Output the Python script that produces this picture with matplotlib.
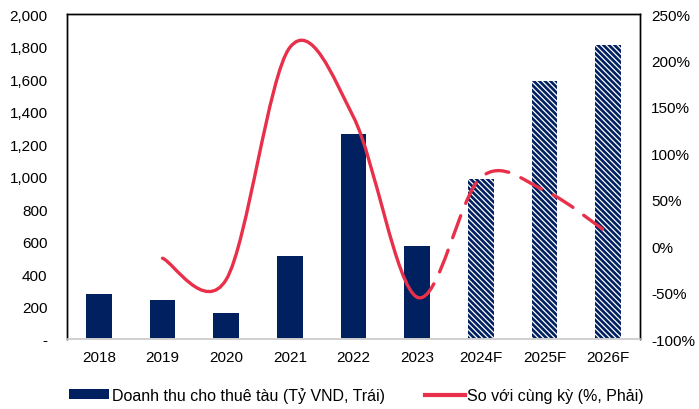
import numpy as np
import matplotlib
matplotlib.use("Agg")
import matplotlib.pyplot as plt
from matplotlib.path import Path
from matplotlib.patches import PathPatch, Patch
from matplotlib.lines import Line2D
from matplotlib.ticker import FuncFormatter, MultipleLocator

plt.rcParams['font.family'] = ['Liberation Sans', 'DejaVu Sans']
plt.rcParams['hatch.linewidth'] = 0.9

# Data
years = ['2018', '2019', '2020', '2021', '2022', '2023', '2024F', '2025F', '2026F']
revenue = [275, 238, 162, 512, 1260, 570, 985, 1588, 1812]   # ty VND (left axis)
yoy_years = ['2019', '2020', '2021', '2022', '2023', '2024F', '2025F', '2026F']
yoy = [-13, -36, 214, 139, -55, 74, 60, 14]                   # % (right axis)
forecast = [False, False, False, False, False, False, True, True, True]

navy = '#002060'
red = '#E8304A'

fig = plt.figure(figsize=(6.99, 4.10), dpi=100)
ax = fig.add_axes([0.0959, 0.1707, 0.8197, 0.7927])
ax2 = ax.twinx()

x = np.arange(len(years))
for xi, v, f in zip(x, revenue, forecast):
    if f:
        ax.bar(xi, v, width=0.4, color=navy, edgecolor='white', linewidth=0,
               hatch='\\\\\\\\\\\\', zorder=2)
    else:
        ax.bar(xi, v, width=0.4, color=navy, linewidth=0, zorder=2)

ax.set_xlim(-0.5, len(years) - 0.5)
ax.set_ylim(0, 2000)
ax.yaxis.set_major_locator(MultipleLocator(200))
ax.yaxis.set_major_formatter(FuncFormatter(lambda v, p: '-' if v == 0 else f'{v:,.0f}'))
ax.set_xticks(x)
ax.set_xticklabels(years)

ax2.set_ylim(-100, 250)
ax2.yaxis.set_major_locator(MultipleLocator(50))
ax2.yaxis.set_major_formatter(FuncFormatter(lambda v, p: f'{v:.0f}%'))

# smoothed line (Excel style), bezier segments through the points
px = np.array([years.index(y) for y in yoy_years], dtype=float)
py = np.array(yoy, dtype=float)
n = len(px)
segs = []
for i in range(n - 1):
    p0 = np.array([px[i], py[i]])
    p3 = np.array([px[i + 1], py[i + 1]])
    pm = np.array([px[max(i - 1, 0)], py[max(i - 1, 0)]])
    pn = np.array([px[min(i + 2, n - 1)], py[min(i + 2, n - 1)]])
    p1 = p0 + (p3 - pm) / 6
    p2 = p3 - (pn - p0) / 6
    segs.append((p0, p1, p2, p3))

split = yoy_years.index('2023')


def bez_path(sub):
    verts = [sub[0][0]]
    codes = [Path.MOVETO]
    for p0, p1, p2, p3 in sub:
        verts += [p1, p2, p3]
        codes += [Path.CURVE4] * 3
    return Path(verts, codes)


ax2.add_patch(PathPatch(bez_path(segs[:split]), fill=False, edgecolor=red,
                        lw=2.4, capstyle='round', joinstyle='round', zorder=3))
ax2.add_patch(PathPatch(bez_path(segs[split:]), fill=False, edgecolor=red,
                        lw=2.4, linestyle=(0, (7, 4)), capstyle='round', zorder=3))

for a in (ax, ax2):
    for s in ['left', 'right', 'top']:
        a.spines[s].set_color('black')
        a.spines[s].set_linewidth(1.0)
    a.spines['bottom'].set_color('#D0D0D0')
    a.spines['bottom'].set_linewidth(1.2)
    a.tick_params(length=0, labelsize=11, colors='black')
ax.tick_params(axis='y', pad=14)
ax2.tick_params(axis='y', pad=8)
ax.tick_params(axis='x', pad=8)
ax.set_zorder(ax2.get_zorder() - 1)
ax2.patch.set_visible(False)

handles = [Patch(facecolor=navy, edgecolor='none'),
           Line2D([0], [0], color=red, lw=3)]
labels = ['Doanh thu cho thuê tàu (Tỷ VND, Trái)', 'So với cùng kỳ (%, Phải)']
fig.legend(handles, labels, loc='center', bbox_to_anchor=(0.51, 0.035), ncol=2,
           frameon=False, fontsize=11.5, handlelength=2.5, handleheight=0.5,
           handletextpad=0.15, columnspacing=2.5)

fig.savefig('out.png', dpi=100)
